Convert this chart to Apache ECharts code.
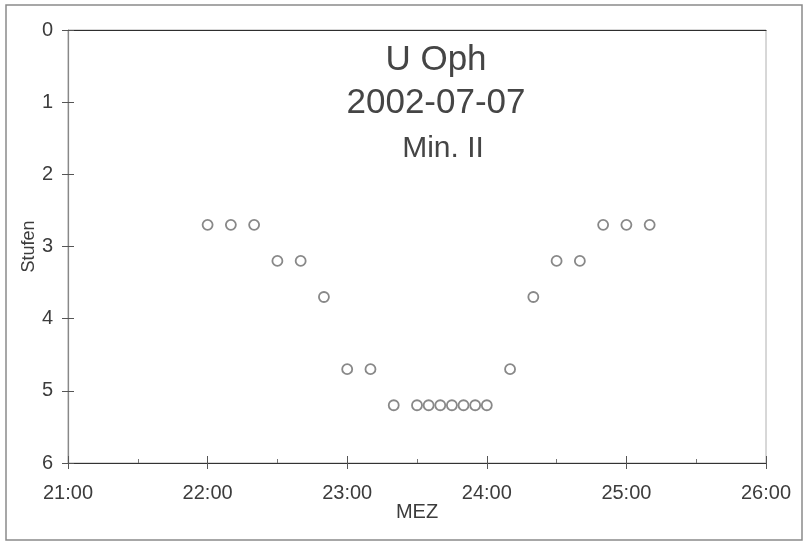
<!DOCTYPE html>
<html>
<head>
<meta charset="utf-8">
<title>U Oph 2002-07-07</title>
<script src="https://cdn.jsdelivr.net/npm/echarts@6/dist/echarts.min.js"></script>
<style>
  html, body { margin: 0; padding: 0; background: #fff; }
  #chart { width: 805px; height: 546px; }
</style>
</head>
<body>
<div id="chart"></div>
<script>
// Observation times (MEZ) and estimated brightness steps
const times = ['22:00', '22:10', '22:20', '22:30', '22:40', '22:50', '23:00', '23:10', '23:20',
               '23:30', '23:35', '23:40', '23:45', '23:50', '23:55', '24:00',
               '24:10', '24:20', '24:30', '24:40', '24:50', '25:00', '25:10'];
const stufen = [2.7, 2.7, 2.7, 3.2, 3.2, 3.7, 4.7, 4.7, 5.2,
                5.2, 5.2, 5.2, 5.2, 5.2, 5.2, 5.2,
                4.7, 3.7, 3.2, 3.2, 2.7, 2.7, 2.7];
const titleLines = ['U Oph', '2002-07-07', 'Min. II'];
const xRange = [21, 26];
const yRange = [0, 6];

// convert "hh:mm" to decimal hours
const toHours = t => { const [h, m] = t.split(':').map(Number); return h + m / 60; };
const points = times.map((t, i) => [toHours(t), stufen[i]]);

const FONT = '"Liberation Sans", Arial, sans-serif';
const TXT = '#3c3c3c';
const TICK = '#555';

const chart = echarts.init(document.getElementById('chart'), null, { renderer: 'canvas' });

const hourLabel = v => Math.round(v) + ':00';
const plotBox = { left: 68, right: 39, top: 30, bottom: 83 };

chart.setOption({
  backgroundColor: '#fff',
  animation: false,
  title: [
    { text: titleLines[0], left: 431, top: 38, textAlign: 'center',
      textStyle: { fontFamily: FONT, fontSize: 35, fontWeight: 'normal', color: '#454545' } },
    { text: titleLines[1], left: 431, top: 81, textAlign: 'center',
      textStyle: { fontFamily: FONT, fontSize: 35, fontWeight: 'normal', color: '#454545' } },
    { text: titleLines[2], left: 438, top: 129, textAlign: 'center',
      textStyle: { fontFamily: FONT, fontSize: 30, fontWeight: 'normal', color: '#454545' } }
  ],
  graphic: [
    { type: 'rect', shape: { x: 6, y: 5, width: 796, height: 535 },
      style: { fill: 'none', stroke: '#8a8a8a', lineWidth: 1.5 }, z: -1 }
  ],
  grid: [
    // main plot frame with outward ticks and labels
    Object.assign({ show: true, borderColor: '#b0b0b0', borderWidth: 1 }, plotBox),
    // overlay carrying the inward half of the crossing ticks
    Object.assign({ show: false }, plotBox)
  ],
  xAxis: [
    {
      gridIndex: 0, type: 'value', min: xRange[0], max: xRange[1], interval: 1, position: 'bottom',
      name: 'MEZ', nameLocation: 'middle', nameGap: 39, nameMoveOverlap: false,
      nameTextStyle: { fontFamily: FONT, fontSize: 20, color: TXT },
      axisLine: { show: true, onZero: false, lineStyle: { color: '#333', width: 1.2 } },
      axisTick: { show: true, inside: false, length: 6, lineStyle: { color: TICK } },
      axisLabel: { formatter: hourLabel, fontFamily: FONT, fontSize: 20, color: TXT, margin: 20 },
      splitLine: { show: false }
    },
    {
      gridIndex: 0, type: 'value', min: xRange[0], max: xRange[1], position: 'top',
      axisLine: { show: true, onZero: false, lineStyle: { color: '#2e2e2e', width: 1.2 } },
      axisTick: { show: false }, axisLabel: { show: false }, splitLine: { show: false }
    },
    {
      gridIndex: 1, type: 'value', min: xRange[0], max: xRange[1], interval: 1, position: 'bottom',
      axisLine: { show: false, onZero: false },
      axisTick: { show: true, inside: true, length: 7, lineStyle: { color: TICK } },
      minorTick: { show: true, splitNumber: 2, length: 4, lineStyle: { color: '#777' } },
      axisLabel: { show: false }, splitLine: { show: false }
    }
  ],
  yAxis: [
    {
      gridIndex: 0, type: 'value', min: yRange[0], max: yRange[1], interval: 1, inverse: true, position: 'left',
      name: 'Stufen', nameLocation: 'middle', nameGap: 30, nameRotate: 90, nameMoveOverlap: false,
      nameTextStyle: { fontFamily: FONT, fontSize: 18, color: TXT },
      axisLine: { show: true, onZero: false, lineStyle: { color: '#888', width: 1.2 } },
      axisTick: { show: true, inside: false, length: 6, lineStyle: { color: TICK } },
      axisLabel: { fontFamily: FONT, fontSize: 20, color: TXT, margin: 15 },
      splitLine: { show: false }
    },
    {
      gridIndex: 1, type: 'value', min: yRange[0], max: yRange[1], interval: 1, inverse: true, position: 'left',
      axisLine: { show: false, onZero: false },
      axisTick: { show: true, inside: true, length: 6, lineStyle: { color: TICK } },
      axisLabel: { show: false }, splitLine: { show: false }
    }
  ],
  series: [
    {
      type: 'scatter', xAxisIndex: 0, yAxisIndex: 0,
      data: points,
      symbol: 'circle', symbolSize: 10,
      itemStyle: { color: '#fff', borderColor: '#6a6a6a', borderWidth: 1.8 }
    }
  ]
});
</script>
</body>
</html>
